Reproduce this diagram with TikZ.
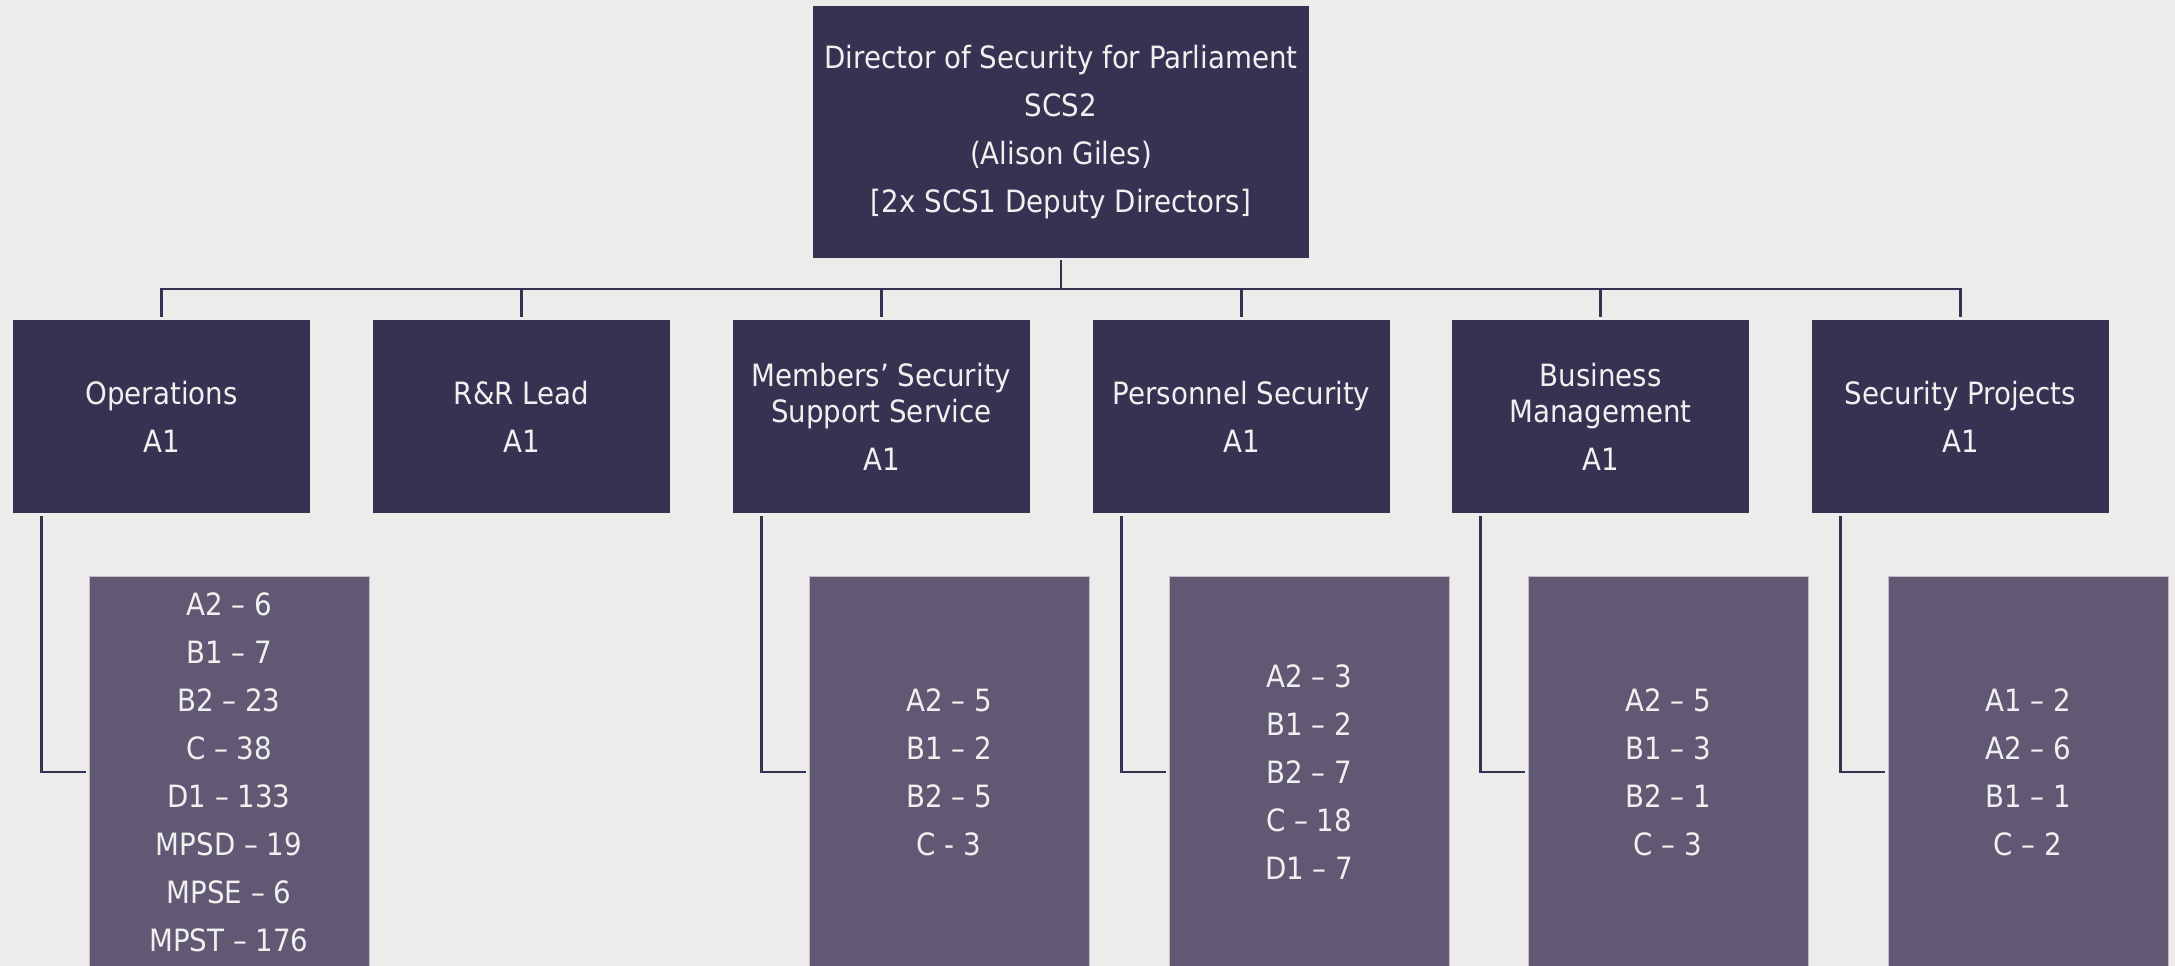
\documentclass[tikz,border=0pt]{standalone}
\usepackage{fontspec}
\setmainfont{DejaVu Sans Condensed}
\definecolor{deskblue}{RGB}{54, 50, 82}
\definecolor{teamplum}{RGB}{97, 89, 116}
\definecolor{paper}{RGB}{237, 236, 234}
\definecolor{chalk}{RGB}{240, 240, 240}
\usetikzlibrary{positioning, calc}

\begin{document}
\begin{tikzpicture}[
  head/.style={fill=deskblue, text=chalk, minimum width=5.94cm, minimum height=3.86cm, align=center, inner sep=0pt, font=\fontsize{17.5}{20.5}\selectfont},
  crew/.style={fill=teamplum, draw=teamplum!40!white, line width=0.4pt, text=chalk, minimum width=5.6cm, minimum height=7.84cm, align=center, inner sep=0pt, font=\fontsize{17.5}{27.3}\selectfont},
  link/.style={draw=deskblue, line width=1.5pt},
]
  \useasboundingbox (0,0) rectangle (43.5,-19.32);
  \fill[paper] (0,0) rectangle (43.5,-19.32);

  \node[head, minimum width=9.92cm, minimum height=5.04cm, font=\fontsize{17.5}{27.3}\selectfont] (dir) at (21.22,-2.64)
    {Director of Security for Parliament\\SCS2\\(Alison Giles)\\{[2x SCS1 Deputy Directors]}};

  \node[head] (ops) at (3.23,-8.33) {Operations\\[6.8pt]A1};
  \node[head] (rr) at (10.43,-8.33) {R\&R Lead\\[6.8pt]A1};
  \node[head] (mss) at (17.63,-8.33) {Members’ Security\\Support Service\\[6.8pt]A1};
  \node[head] (pers) at (24.83,-8.33) {Personnel Security\\[6.8pt]A1};
  \node[head] (busm) at (32.01,-8.33) {Business\\Management\\[6.8pt]A1};
  \node[head] (proj) at (39.21,-8.33) {Security Projects\\[6.8pt]A1};

  \node[crew] (opsT) at (4.58,-15.44) {A2 – 6\\B1 – 7\\B2 – 23\\C – 38\\D1 – 133\\MPSD – 19\\MPSE – 6\\MPST – 176};
  \node[crew] (mssT) at (18.98,-15.44) {A2 – 5\\B1 – 2\\B2 – 5\\C - 3};
  \node[crew] (persT) at (26.18,-15.44) {A2 – 3\\B1 – 2\\B2 – 7\\C – 18\\D1 – 7};
  \node[crew] (busmT) at (33.36,-15.44) {A2 – 5\\B1 – 3\\B2 – 1\\C – 3};
  \node[crew] (projT) at (40.56,-15.44) {A1 – 2\\A2 – 6\\B1 – 1\\C – 2};

  % director down to the bus
  \coordinate (fork) at (21.22,-5.78);
  \draw[link] ([yshift=-0.04cm]dir.south) -- (fork);
  \draw[link] ([yshift=0.06cm]ops.north) |- (fork) -| ([yshift=0.06cm]proj.north);
  \foreach \n in {rr, mss, pers, busm}
    \draw[link] ([yshift=0.06cm]\n.north) -- (\n.north |- fork);

  % heads to their teams
  \foreach \n in {ops, mss, pers, busm, proj}
    \draw[link] ([xshift=0.58cm, yshift=-0.06cm]\n.south west) |- ([xshift=-0.05cm]\n T.west);
\end{tikzpicture}
\end{document}
